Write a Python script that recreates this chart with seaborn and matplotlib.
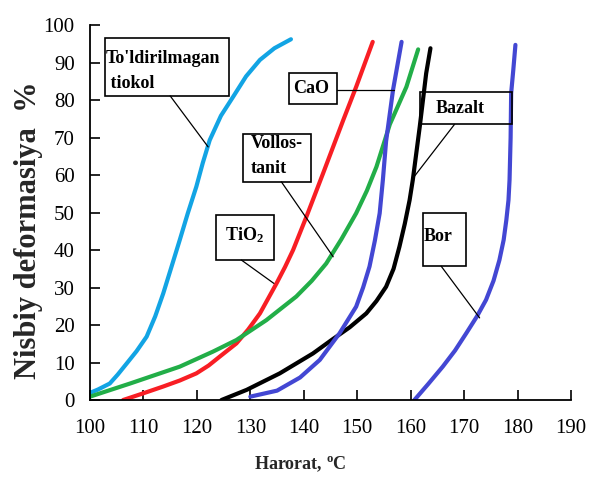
import matplotlib
matplotlib.use("Agg")
import matplotlib.pyplot as plt
from matplotlib.patches import Rectangle
import seaborn as sns
import pandas as pd

# Deformation curves: temperature (°C) vs relative deformation (%)
tiokol_t = [100.0, 101.5, 103.7, 105.2, 106.9, 108.7, 110.6, 112.2, 113.7, 115.2, 116.8,
            118.3, 119.9, 121.1, 122.4, 124.5, 126.8, 129.2, 131.8, 134.5, 137.6]
tiokol_d = [1.9, 2.8, 4.4, 6.8, 9.8, 13.0, 16.9, 22.3, 28.4, 35.3, 42.7,
            49.8, 56.9, 63.2, 69.3, 75.8, 80.9, 86.3, 90.7, 93.8, 96.2]

tio2_t = [106.2, 110.0, 113.7, 116.8, 119.9, 122.2, 124.3, 127.4, 129.6, 131.8, 134.9,
          136.5, 138.0, 140.5, 143.6, 147.4, 149.8, 152.9]
tio2_d = [0.0, 1.8, 3.6, 5.2, 7.1, 9.2, 11.6, 15.1, 18.8, 23.1, 31.1,
          35.5, 40.0, 48.9, 60.4, 74.7, 83.5, 95.5]

vollo_t = [100.0, 107.5, 116.8, 123.0, 127.4, 133.0, 138.6, 141.5, 144.2, 147.0, 149.8,
           151.8, 153.6, 156.1, 159.2, 161.4]
vollo_d = [0.9, 4.4, 8.9, 12.9, 16.0, 21.3, 27.6, 31.8, 36.4, 42.8, 49.8,
           55.8, 62.2, 73.5, 83.5, 93.5]

bazalt_t = [124.6, 129.3, 135.5, 141.7, 145.2, 148.6, 151.7, 153.6, 155.4, 156.8, 157.9,
            158.9, 159.8, 160.4, 161.7, 162.9, 163.7]
bazalt_d = [0.0, 2.7, 7.1, 12.4, 16.0, 19.4, 23.1, 26.4, 30.2, 35.0, 40.9,
            47.0, 53.3, 58.7, 72.9, 87.1, 93.8]

cao_t = [130.0, 135.0, 139.3, 143.0, 146.7, 149.8, 151.1, 152.3, 153.3, 154.2, 154.8,
         155.4, 156.7, 158.3]
cao_d = [0.9, 2.5, 6.0, 10.7, 17.8, 24.9, 30.0, 35.6, 42.5, 49.8, 58.7,
         69.0, 82.7, 95.5]

bor_t = [160.7, 163.3, 166.0, 168.3, 170.4, 172.4, 174.1, 175.5, 176.6, 177.4, 177.9,
         178.3, 178.5, 178.7, 178.8, 179.2, 179.6]
bor_d = [0.0, 4.3, 8.9, 13.2, 17.8, 22.3, 26.7, 31.8, 37.3, 42.7, 48.0,
         53.3, 58.7, 70.0, 81.8, 88.0, 94.7]

materials = ["To'ldirilmagan tiokol", "TiO2", "Vollostanit", "Bazalt", "CaO", "Bor"]
series = [(tiokol_t, tiokol_d), (tio2_t, tio2_d), (vollo_t, vollo_d),
          (bazalt_t, bazalt_d), (cao_t, cao_d), (bor_t, bor_d)]
colors = ["#12A4E4", "#F81E24", "#22AE48", "#000000", "#4347D3", "#4347D3"]

x_ticks = [100, 110, 120, 130, 140, 150, 160, 170, 180, 190]
y_ticks = [0, 10, 20, 30, 40, 50, 60, 70, 80, 90, 100]

frames = []
for name, (t, d) in zip(materials, series):
    frames.append(pd.DataFrame({"Harorat": t, "Deformasiya": d, "Material": name}))
df = pd.concat(frames, ignore_index=True)

sns.set_theme(style="ticks")
plt.rcParams["font.family"] = ["Liberation Serif", "DejaVu Serif"]
plt.rcParams["mathtext.fontset"] = "custom"
plt.rcParams["mathtext.rm"] = "Liberation Serif"
plt.rcParams["mathtext.bf"] = "Liberation Serif:bold"
plt.rcParams["mathtext.it"] = "Liberation Serif:italic"

fig = plt.figure(figsize=(5.94, 4.79), dpi=100)
ax = fig.add_axes([0.1515, 0.1649, 0.8098, 0.7829])

sns.lineplot(data=df, x="Harorat", y="Deformasiya", hue="Material",
             palette=dict(zip(materials, colors)), sort=False, estimator=None,
             linewidth=3.0, legend=False, ax=ax)

ax.set_xlim(100, 190)
ax.set_ylim(0, 100)
ax.set_xticks(x_ticks)
ax.set_yticks(y_ticks)
sns.despine(ax=ax)
for s in ("left", "bottom"):
    ax.spines[s].set_linewidth(1.3)
    ax.spines[s].set_color("black")
ax.tick_params(axis="both", direction="in", length=7, width=1.2, colors="black",
               labelsize=15)
ax.tick_params(axis="x", pad=14)
ax.tick_params(axis="y", pad=11)

ax.set_ylabel("Nisbiy deformasiya  %", fontsize=22, fontweight="bold")
ax.yaxis.set_label_coords(-0.098, 0.452)
ax.set_xlabel("Harorat, $^{\\mathbf{o}}$C", fontsize=13, fontweight="bold")
ax.xaxis.set_label_coords(0.437, -0.145)

# Callout boxes: (text lines, box corners, text anchor, leader line)
callouts = [
    (["To'ldirilmagan", " tiokol"], (102.8, 81.1, 126.0, 96.5), (103.0, [91.2, 84.4]),
     ((115.0, 81.1), (122.1, 67.5))),
    (["CaO"], (137.25, 78.9, 146.2, 87.1), (138.0, [83.0]),
     ((146.2, 82.7), (156.8, 82.7))),
    (["Vollos-", "tanit"], (128.65, 58.2, 141.3, 70.9), (130.1, [68.3, 61.8]),
     ((135.8, 58.2), (145.5, 38.2))),
    (["TiO$_{\\mathbf{2}}$"], (123.55, 37.3, 134.45, 49.3), (125.3, [44.0]),
     ((128.35, 37.3), (134.4, 31.1))),
    (["Bazalt"], (161.7, 73.5, 178.9, 82.05), (164.7, [77.8]),
     ((168.2, 73.5), (160.4, 59.1))),
    (["Bor"], (162.4, 35.7, 170.3, 49.8), (162.5, [43.5]),
     ((165.7, 35.7), (172.9, 21.9))),
]
for lines, (x0, y0, x1, y1), (tx, tys), ((lx0, ly0), (lx1, ly1)) in callouts:
    ax.add_patch(Rectangle((x0, y0), x1 - x0, y1 - y0, fill=False,
                           edgecolor="black", linewidth=1.2, zorder=4))
    for line, ty in zip(lines, tys):
        ax.text(tx, ty, line, ha="left", va="center", fontsize=13,
                fontweight="bold", color="black", zorder=5)
    ax.plot([lx0, lx1], [ly0, ly1], color="black", linewidth=0.9, zorder=4)

fig.savefig("out.png", dpi=100)
